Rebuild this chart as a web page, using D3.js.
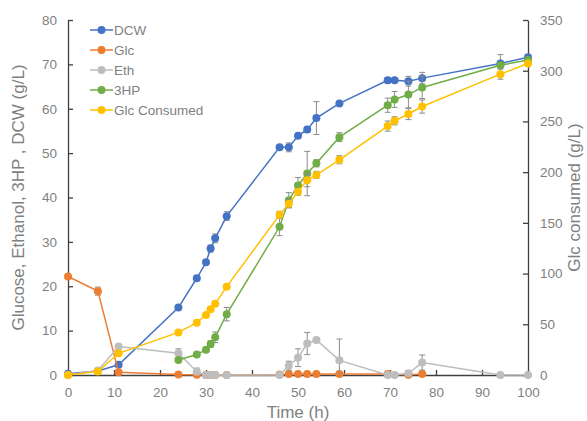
<!DOCTYPE html>
<html>
<head>
<meta charset="utf-8">
<script src="https://cdn.jsdelivr.net/npm/d3@7"></script>
<style>
  body { margin: 0; background: #fff; }
  svg { display: block; font-family: "Liberation Sans", Arial, sans-serif; }
</style>
</head>
<body>
<svg id="chart"></svg>
<script>
// sampling times (h)
const times = [0, 6.5, 11, 24, 28, 30, 31, 32, 34.5, 46, 48, 50, 52, 54, 59, 69.5, 71, 74, 77, 94, 100];

// left axis series (g/L)
const dcw    = [0.3, 0.9, 2.3, 15.2, 21.8, 25.4, 28.5, 30.8, 35.8, 51.3, 51.3, 53.9, 55.3, 57.9, 61.2, 66.4, 66.4, 66.2, 66.9, 70.2, 71.6];
const dcwErr = [0, 0.2, 0.3, 0.3, 0.3, 0.4, 0.8, 1.0, 1.0, 0.4, 1.0, 0.4, 0.6, 3.7, 0.4, 0.6, 0.3, 1.1, 1.3, 2.0, 0.6];

const glcTimes = [0, 6.5, 11, 24, 28, 30, 31, 32, 34.5, 46, 48, 50, 52, 54, 59, 69.5, 74, 77];
const glc      = [22.2, 18.9, 0.6, 0.1, 0.05, 0, 0, 0, 0, 0.1, 0.2, 0.2, 0.2, 0.2, 0.2, 0.2, 0.05, 0.2];
const glcErr   = [0, 0.9, 0.1, 0, 0, 0, 0, 0, 0, 0, 0, 0, 0, 0, 0, 0, 0, 0];

const eth    = [0, 1.0, 6.4, 4.9, 0.75, 0, 0, 0, 0, 0, 2.1, 3.9, 7.1, 7.9, 3.3, 0, 0, 0.4, 2.8, 0, 0];
const ethErr = [0, 0.2, 0.3, 1.0, 0.8, 0, 0, 0, 0, 0, 1.0, 2.0, 2.5, 0.4, 4.8, 0.2, 0, 0.5, 1.7, 0, 0];

const hpTimes = [24, 28, 30, 31, 32, 34.5, 46, 48, 50, 52, 54, 59, 69.5, 71, 74, 77, 94, 100];
const hp      = [3.4, 4.6, 5.7, 7.0, 8.5, 13.7, 33.4, 39.4, 42.7, 45.4, 47.7, 53.6, 60.8, 62.1, 63.2, 64.8, 69.8, 71.0];
const hpErr   = [0.3, 0.3, 0.5, 0.7, 1.2, 1.5, 2.0, 1.7, 1.8, 5.0, 0.8, 1.0, 1.6, 1.8, 3.0, 2.5, 0.6, 0.5];

// right axis series (g/L)
const glcCons    = [0, 3.5, 21.4, 42, 51.6, 59.1, 64.8, 70.2, 87.1, 157.9, 168.9, 180.7, 192.1, 197.3, 212.2, 245.4, 250.6, 257.3, 264.7, 296.6, 307.1];
const glcConsErr = [0, 0, 0.5, 0.5, 0.5, 0.5, 0.5, 0.5, 0.5, 3.5, 4.0, 3.5, 6.5, 3.5, 4.0, 5.0, 4.0, 5.5, 6.5, 5.0, 2.0];

const xTicks = d3.range(0, 101, 10);
const yLeftTicks = d3.range(0, 81, 10);
const yRightTicks = d3.range(0, 351, 50);

const margin = { top: 20, right: 59, bottom: 46, left: 68 };
const W = 587, H = 421;
const width = W - margin.left - margin.right;
const height = H - margin.top - margin.bottom;

const svg = d3.select("#chart").attr("width", W).attr("height", H);
const g = svg.append("g").attr("transform", `translate(${margin.left},${margin.top})`);

const x = d3.scaleLinear().domain([0, 100]).range([0, width]);
const yL = d3.scaleLinear().domain([0, 80]).range([height, 0]);
const yR = d3.scaleLinear().domain([0, 350]).range([height, 0]);

const textColor = "#7f7f7f";
const axisColor = "#404040";

// axes, ticks pointing inward
function styleAxis(sel) {
  sel.select(".domain").attr("stroke", axisColor).attr("stroke-width", 1.3);
  sel.selectAll(".tick line").attr("stroke", axisColor).attr("stroke-width", 1.3);
  sel.selectAll(".tick text").attr("fill", textColor).style("font-size", "13.5px");
}

g.append("g")
  .attr("transform", `translate(0,${height})`)
  .call(d3.axisBottom(x).tickValues(xTicks).tickSizeInner(-5).tickSizeOuter(0).tickPadding(12))
  .call(styleAxis);

g.append("g")
  .call(d3.axisLeft(yL).tickValues(yLeftTicks).tickSizeInner(-5).tickSizeOuter(0).tickPadding(11))
  .call(styleAxis);

g.append("g")
  .attr("transform", `translate(${width},0)`)
  .call(d3.axisRight(yR).tickValues(yRightTicks).tickSizeInner(-5).tickSizeOuter(0).tickPadding(12))
  .call(styleAxis);

// axis titles
svg.append("text")
  .attr("x", margin.left + width / 2).attr("y", 418)
  .attr("text-anchor", "middle").attr("fill", textColor)
  .style("font-size", "17px").text("Time (h)");

svg.append("text")
  .attr("transform", `translate(24,${margin.top + height / 2}) rotate(-90)`)
  .attr("text-anchor", "middle").attr("fill", textColor)
  .style("font-size", "17px").text("Glucose, Ethanol, 3HP , DCW (g/L)");

svg.append("text")
  .attr("transform", `translate(580,${margin.top + height / 2}) rotate(-90)`)
  .attr("text-anchor", "middle").attr("fill", textColor)
  .style("font-size", "17px").text("Glc consumed (g/L)");

const series = [
  { name: "DCW", xs: times, ys: dcw, err: dcwErr, y: yL, color: "#4472c4" },
  { name: "Glc", xs: glcTimes, ys: glc, err: glcErr, y: yL, color: "#ed7d31" },
  { name: "Eth", xs: times, ys: eth, err: ethErr, y: yL, color: "#bdbdbd" },
  { name: "3HP", xs: hpTimes, ys: hp, err: hpErr, y: yL, color: "#70ad47" },
  { name: "Glc Consumed", xs: times, ys: glcCons, err: glcConsErr, y: yR, color: "#ffc000" }
];

function drawSeries(s) {
  const pts = s.xs.map((t, i) => ({ t: t, v: s.ys[i], e: s.err[i] }));
  const layer = g.append("g");

  // error bars (grey, capped)
  const eb = layer.selectAll(".err").data(pts.filter(d => d.e > 0)).join("g");
  const lo = d => s.y(Math.max(0, d.v - d.e));
  eb.append("line")
    .attr("x1", d => x(d.t)).attr("x2", d => x(d.t))
    .attr("y1", d => s.y(d.v + d.e)).attr("y2", lo)
    .attr("stroke", "#8c8c8c").attr("stroke-width", 1);
  eb.append("line")
    .attr("x1", d => x(d.t) - 3).attr("x2", d => x(d.t) + 3)
    .attr("y1", d => s.y(d.v + d.e)).attr("y2", d => s.y(d.v + d.e))
    .attr("stroke", "#8c8c8c").attr("stroke-width", 1);
  eb.filter(d => d.v - d.e > 0).append("line")
    .attr("x1", d => x(d.t) - 3).attr("x2", d => x(d.t) + 3)
    .attr("y1", lo).attr("y2", lo)
    .attr("stroke", "#8c8c8c").attr("stroke-width", 1);

  const line = d3.line().x(d => x(d.t)).y(d => s.y(d.v));
  layer.append("path")
    .datum(pts)
    .attr("d", line)
    .attr("fill", "none")
    .attr("stroke", s.color)
    .attr("stroke-width", 1.5);

  layer.selectAll("circle").data(pts).join("circle")
    .attr("cx", d => x(d.t)).attr("cy", d => s.y(d.v))
    .attr("r", 4)
    .attr("fill", s.color);
}

series.forEach(drawSeries);

// legend
const legend = svg.append("g").attr("transform", "translate(90,30)");
series.forEach((s, i) => {
  const row = legend.append("g").attr("transform", `translate(0,${i * 20})`);
  row.append("line").attr("x1", 0).attr("x2", 23).attr("y1", 0).attr("y2", 0)
    .attr("stroke", s.color).attr("stroke-width", 1.5);
  row.append("circle").attr("cx", 11.5).attr("cy", 0).attr("r", 4).attr("fill", s.color);
  row.append("text").attr("x", 24).attr("y", 0).attr("dy", "0.35em")
    .attr("fill", textColor).style("font-size", "13.5px").text(s.name);
});
</script>
</body>
</html>
